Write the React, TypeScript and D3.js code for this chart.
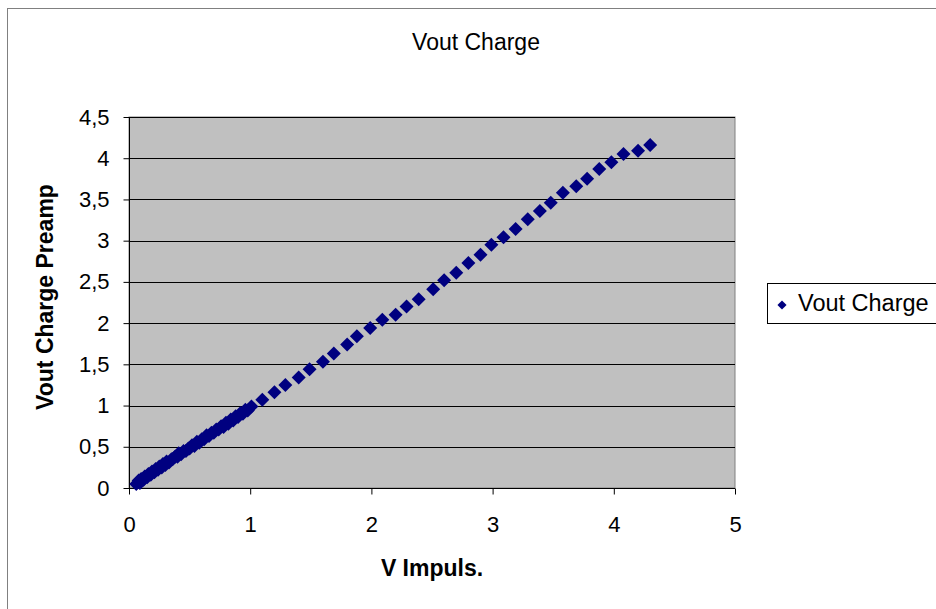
import React from 'react';
import * as d3 from 'd3';

// V Impuls. (x) and Vout Charge Preamp (y)
const vImpuls = [
  0.06, 0.08, 0.09, 0.1, 0.12, 0.13, 0.15, 0.16, 0.18, 0.19, 0.21, 0.22, 0.24, 0.25, 0.27, 0.28,
  0.3, 0.31, 0.33, 0.35, 0.36, 0.38, 0.4, 0.41, 0.43, 0.45, 0.47, 0.49, 0.5, 0.52, 0.54, 0.56,
  0.58, 0.6, 0.62, 0.64, 0.66, 0.68, 0.7, 0.72, 0.74, 0.76, 0.78, 0.8, 0.82, 0.84, 0.86, 0.88,
  0.9, 0.92, 0.94, 0.96, 0.98, 1.01,
  1.1, 1.2, 1.29, 1.4, 1.49, 1.6, 1.69, 1.8, 1.88, 1.99, 2.09, 2.2, 2.29, 2.39, 2.51, 2.6,
  2.7, 2.8, 2.9, 2.99, 3.09, 3.19, 3.29, 3.39, 3.48, 3.58, 3.69, 3.78, 3.88, 3.98, 4.08, 4.2, 4.3,
];
const voutCharge = [
  0.05, 0.09, 0.06, 0.11, 0.1, 0.14, 0.13, 0.17, 0.16, 0.2, 0.19, 0.23, 0.22, 0.26, 0.25, 0.29,
  0.28, 0.32, 0.31, 0.35, 0.35, 0.38, 0.38, 0.42, 0.41, 0.45, 0.45, 0.48, 0.48, 0.52, 0.51, 0.56,
  0.55, 0.59, 0.59, 0.64, 0.63, 0.67, 0.67, 0.71, 0.71, 0.75, 0.74, 0.79, 0.78, 0.83, 0.82, 0.87,
  0.86, 0.91, 0.9, 0.95, 0.94, 0.99,
  1.07, 1.16, 1.25, 1.34, 1.44, 1.53, 1.63, 1.74, 1.84, 1.94, 2.04, 2.1, 2.2, 2.29, 2.41, 2.52,
  2.61, 2.73, 2.83, 2.95, 3.04, 3.14, 3.26, 3.36, 3.46, 3.58, 3.66, 3.75, 3.87, 3.95, 4.05, 4.09, 4.16,
];
const xTicks = [0, 1, 2, 3, 4, 5];
const yTicks = [0, 0.5, 1, 1.5, 2, 2.5, 3, 3.5, 4, 4.5];

const chartTitle = 'Vout Charge';
const seriesName = 'Vout Charge';
const xTitle = 'V Impuls.';
const yTitle = 'Vout Charge Preamp';

const W = 936;
const H = 609;
const plot = {left: 129, top: 117, right: 735, bottom: 488};
const FONT = 'Arial, "Liberation Sans", sans-serif';

export default function App() {
  const container = React.useRef<SVGSVGElement>(null);

  React.useEffect(() => {
    if (!container.current) return;
    const svg = d3.select(container.current);
    svg.selectAll('*').remove();

    const x = d3.scaleLinear().domain([0, 5]).range([plot.left, plot.right]);
    const y = d3.scaleLinear().domain([0, 4.5]).range([plot.bottom, plot.top]);

    // outer chart frame (runs off the right / bottom edge like the original)
    svg.append('rect')
      .attr('x', 7.5).attr('y', 8.5)
      .attr('width', W + 20).attr('height', H + 20)
      .attr('fill', 'white')
      .attr('stroke', '#808080');

    /* plot area */
    svg.append('rect')
      .attr('x', plot.left).attr('y', plot.top)
      .attr('width', plot.right - plot.left).attr('height', plot.bottom - plot.top)
      .attr('fill', '#c0c0c0')
      .attr('stroke', '#808080');

    // gridlines
    svg.append('g')
      .selectAll('line')
      .data(yTicks.filter(t => t > 0))
      .enter()
      .append('line')
      .attr('x1', plot.left).attr('x2', plot.right)
      .attr('y1', d => Math.round(y(d)) + 0.5).attr('y2', d => Math.round(y(d)) + 0.5)
      .attr('stroke', '#000')
      .attr('stroke-width', 1);

    /* X and Y axes */
    const axisX = d3.axisBottom(x).tickValues(xTicks).tickSize(6).tickPadding(22)
      .tickFormat(d => String(d));
    const axisY = d3.axisLeft(y).tickValues(yTicks).tickSize(6).tickPadding(14)
      .tickFormat(d => String(d).replace('.', ','));

    const gx = svg.append('g')
      .attr('transform', `translate(0,${plot.bottom + 0.5})`)
      .call(axisX);
    const gy = svg.append('g')
      .attr('transform', `translate(${plot.left + 0.5},0)`)
      .call(axisY);

    [gx, gy].forEach(g => {
      g.select('.domain').attr('stroke', '#000');
      g.selectAll('.tick line').attr('stroke', '#000');
      g.selectAll('.tick text')
        .attr('fill', '#000')
        .style('font-family', FONT)
        .style('font-size', '22px');
    });
    gx.select('.domain').attr('d', `M${plot.left},0H${plot.right}`);
    gy.select('.domain').attr('d', `M0,${plot.bottom}V${plot.top}`);

    /* points */
    const diamond = d3.symbol().type(d3.symbolSquare).size(98);
    svg.append('g')
      .selectAll('path')
      .data(vImpuls.map((v, i) => [v, voutCharge[i]]))
      .enter()
      .append('path')
      .attr('d', diamond)
      .attr('transform', d => `translate(${x(d[0])},${y(d[1])}) rotate(45)`)
      .attr('fill', '#000080');

    /* titles */
    svg.append('text')
      .attr('x', 476).attr('y', 50)
      .attr('text-anchor', 'middle')
      .style('font-family', FONT).style('font-size', '23px')
      .text(chartTitle);

    svg.append('text')
      .attr('x', 432).attr('y', 576)
      .attr('text-anchor', 'middle')
      .style('font-family', FONT).style('font-size', '23px').style('font-weight', 'bold')
      .text(xTitle);

    svg.append('text')
      .attr('transform', 'translate(53,297) rotate(-90)')
      .attr('text-anchor', 'middle')
      .style('font-family', FONT).style('font-size', '23px').style('font-weight', 'bold')
      .text(yTitle);

    /* legend */
    const legend = svg.append('g');
    legend.append('rect')
      .attr('x', 767.5).attr('y', 283.5)
      .attr('width', 200).attr('height', 40)
      .attr('fill', 'white')
      .attr('stroke', '#000');
    legend.append('path')
      .attr('d', d3.symbol().type(d3.symbolSquare).size(42))
      .attr('transform', 'translate(782,305) rotate(45)')
      .attr('fill', '#000080');
    legend.append('text')
      .attr('x', 798).attr('y', 311)
      .style('font-family', FONT).style('font-size', '23.5px')
      .text(seriesName);
  }, []);

  return (
    <svg ref={container} width={W} height={H}
      style={{position: 'absolute', left: 0, top: 0, background: 'white'}} />
  );
}
